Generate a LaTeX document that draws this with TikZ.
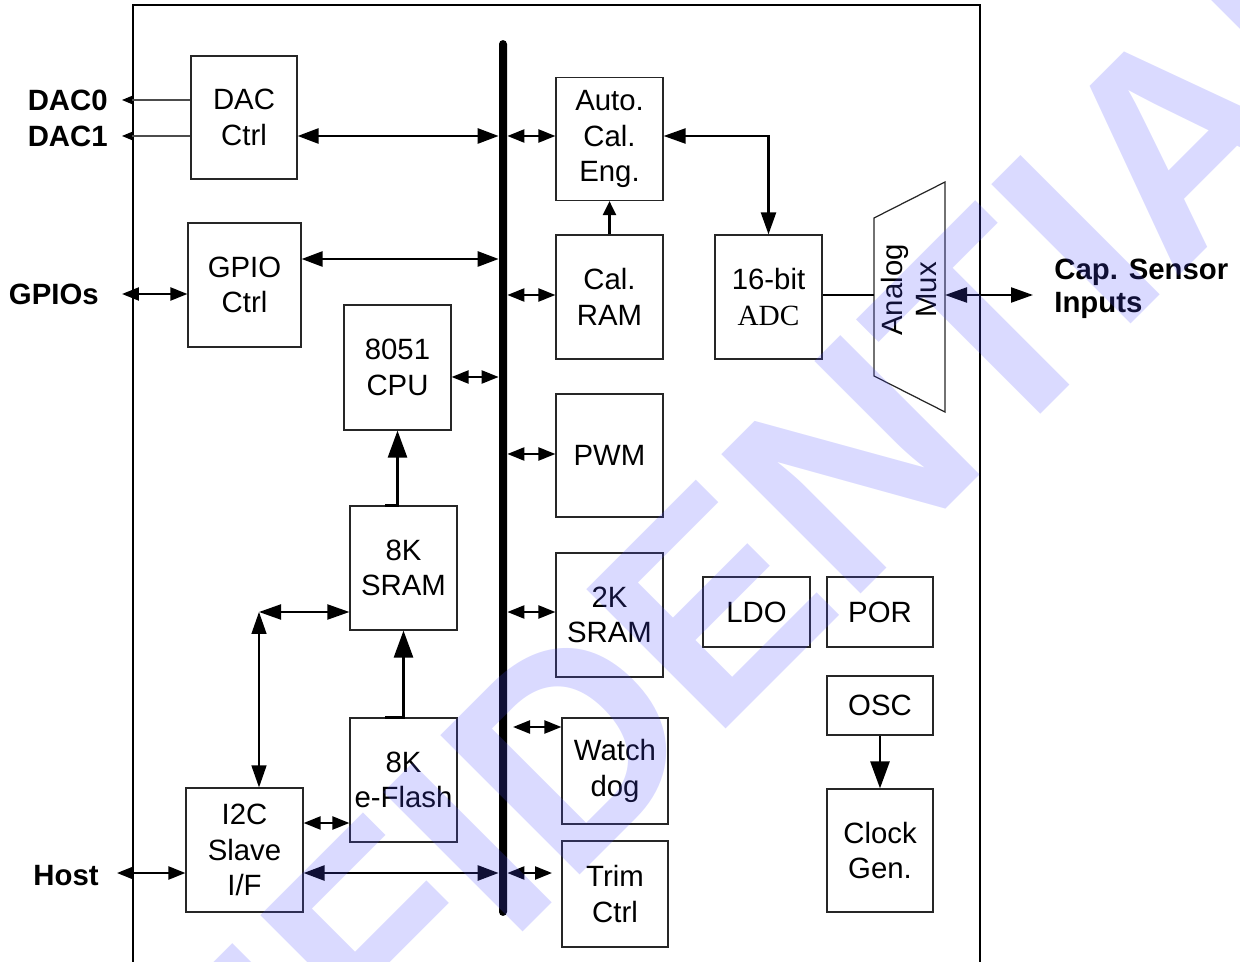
\documentclass[tikz,border=0pt]{standalone}
\usepackage{fontspec}
\setmainfont{Liberation Sans}
\newfontfamily\adcfont{Liberation Serif}
\usetikzlibrary{arrows.meta}
\definecolor{wmblue}{RGB}{80,80,255}
\begin{document}
\begin{tikzpicture}[x=0.02cm,y=-0.02cm,
  blk/.style={draw=black!85,line width=0.7pt,align=center,inner sep=0pt,minimum width=2.14cm,minimum height=2.48cm,font=\fontsize{16.7}{20.3}\selectfont},
  lbl/.style={inner sep=0pt,font=\fontsize{16.7}{19}\selectfont\bfseries},
  bigarr/.style={{Triangle[length=0.42cm,width=0.3cm]}-{Triangle[length=0.42cm,width=0.3cm]},line width=1.5pt},
  busarr/.style={{Triangle[length=0.34cm,width=0.26cm]}-{Triangle[length=0.34cm,width=0.26cm]},line width=1.3pt},
  midarr/.style={{Triangle[length=0.44cm,width=0.3cm]}-{Triangle[length=0.44cm,width=0.3cm]},line width=1.2pt},
  uparr/.style={-{Triangle[length=0.54cm,width=0.38cm]},line width=1.5pt},
  pinarr/.style={-{Triangle[length=0.2cm,width=0.16cm,color=black]},line width=0.6pt,draw=black!70},
  wmark/.style={inner sep=0pt,text=wmblue,text opacity=0.21,font=\fontsize{163}{163}\selectfont\bfseries}
]
\useasboundingbox (0,0) rectangle (1240,962);
\draw[line width=1.6pt] (133,975) -- (133,5) -- (980,5) -- (980,975);
\node[fill=black,rounded corners=0.08cm,minimum width=0.16cm,minimum height=17.52cm,inner sep=0pt] (bus) at (503,478) {};

\node[blk,minimum width=2.12cm,minimum height=2.46cm] (dac) at (244,117.5) {DAC\\Ctrl};
\node[blk,minimum width=2.26cm] (gpio) at (244.5,285) {GPIO\\Ctrl};
\node[blk,minimum height=2.5cm] (cpu) at (397.5,367.5) {8051\\CPU};
\node[blk] (sram8) at (403.5,568) {8K\\SRAM};
\node[blk] (flash) at (403.5,780) {8K\\e-Flash};
\node[blk,minimum width=2.34cm] (i2c) at (244.5,850) {I2C\\Slave\\I/F};
\node[blk,minimum height=2.46cm] (ace) at (609.5,139) {Auto.\\Cal.\\Eng.};
\node[blk] (calram) at (609.5,297) {Cal.\\RAM};
\node[blk,minimum height=2.46cm] (pwm) at (609.5,455.5) {PWM};
\node[blk] (sram2) at (609.5,615) {2K\\SRAM};
\node[blk,minimum width=2.12cm,minimum height=2.12cm] (wdog) at (615,771) {Watch\\dog};
\node[blk,minimum width=2.12cm,minimum height=2.12cm] (trim) at (615,894) {Trim\\Ctrl};
\node[blk] (adc) at (768.5,297) {16-bit\\{\adcfont ADC}};
\node[blk,minimum height=1.4cm] (ldo) at (756.5,612) {LDO};
\node[blk,minimum width=2.12cm,minimum height=1.4cm] (por) at (880,612) {POR};
\node[blk,minimum width=2.12cm,minimum height=1.18cm] (osc) at (880,705.5) {OSC};
\node[blk,minimum width=2.12cm,minimum height=2.46cm] (clk) at (880,850.5) {Clock\\Gen.};

\draw[line width=0.7pt,draw=black!85] (874,218) -- (945,182) -- (945,412) -- (874,376) -- cycle;
\node[inner sep=0pt,rotate=90,align=center,font=\fontsize{16.7}{18.8}\selectfont] (mux) at (909,290) {Analog\\Mux};

\node[lbl,anchor=east] (dac0lbl) at (108,100) {DAC0};
\node[lbl,anchor=east] (dac1lbl) at (108,136) {DAC1};
\node[lbl,anchor=east] (gpiolbl) at (99,294) {GPIOs};
\node[lbl,anchor=east] (hostlbl) at (99,876) {Host};
\node[lbl,anchor=west,align=left,font=\fontsize{16.7}{18.5}\selectfont\bfseries] (caplbl) at (1054,289) {Cap. Sensor\\Inputs};

\coordinate (rdac0) at (0,100);
\coordinate (rdac1) at (0,136);
\coordinate (rgpio) at (0,259);
\coordinate (rcal) at (0,295);
\coordinate (rcpu) at (0,377);
\coordinate (rpwm) at (0,454);
\coordinate (rsram) at (0,612);
\coordinate (rwd) at (0,727);
\coordinate (rflash) at (0,823);
\coordinate (rhost) at (0,873);
\coordinate (dac0pin) at (122,100);
\coordinate (dac1pin) at (122,136);
\coordinate (gpiopin) at (122,294);
\coordinate (hostpin) at (117,873);
\coordinate (i2cup) at (259,612);
\coordinate (wdtap) at (513,727);
\coordinate (trimtap) at (552,873);
\coordinate (muxin) at (874,295);
\coordinate (muxout) at (945,295);
\coordinate (capend) at (1033,295);

\draw[pinarr] (dac.west |- dac0pin) -- (dac0pin);
\draw[pinarr] (dac.west |- dac1pin) -- (dac1pin);
\draw[busarr] (gpiopin) -- (gpio.west |- gpiopin);
\draw[busarr] (hostpin) -- (i2c.west |- hostpin);

\draw[bigarr] (dac.east |- rdac1) -- (bus.west |- rdac1);
\draw[bigarr] (gpio.east |- rgpio) -- (bus.west |- rgpio);
\draw[bigarr] (i2c.east |- rhost) -- (bus.west |- rhost);
\draw[busarr] (cpu.east |- rcpu) -- (bus.west |- rcpu);
\draw[busarr] (i2c.east |- rflash) -- (flash.west |- rflash);

\draw[busarr] (bus.east |- rdac1) -- (ace.west |- rdac1);
\draw[busarr] (bus.east |- rcal) -- (calram.west |- rcal);
\draw[busarr] (bus.east |- rpwm) -- (pwm.west |- rpwm);
\draw[busarr] (bus.east |- rsram) -- (sram2.west |- rsram);
\draw[busarr] (wdtap) -- (wdog.west |- wdtap);
\draw[busarr] (bus.east |- rhost) -- (trimtap);

\draw[midarr,line width=0.8pt] (i2cup) -- (i2cup |- i2c.north);
\draw[midarr] (i2cup) -- (sram8.west |- i2cup);
\draw[uparr] ([xshift=-0.37cm]flash.north) -| (sram8.south);
\draw[uparr] ([xshift=-0.37cm]sram8.north) -| (cpu.south);
\draw[-{Triangle[length=0.28cm,width=0.26cm]},line width=1.3pt] (calram.north) -- (ace.south);
\draw[midarr,line width=1.3pt] (ace.east |- rdac1) -| (adc.north);
\draw[line width=0.7pt] (adc.east |- muxin) -- (muxin);
\draw[midarr,line width=1.3pt] (muxout) -- (capend);
\draw[uparr] (osc.south) -- (clk.north);

\node[wmark,rotate=45,anchor=base west] (wm) at (-64,1519) {CONFIDENTIAL};
\end{tikzpicture}
\end{document}
